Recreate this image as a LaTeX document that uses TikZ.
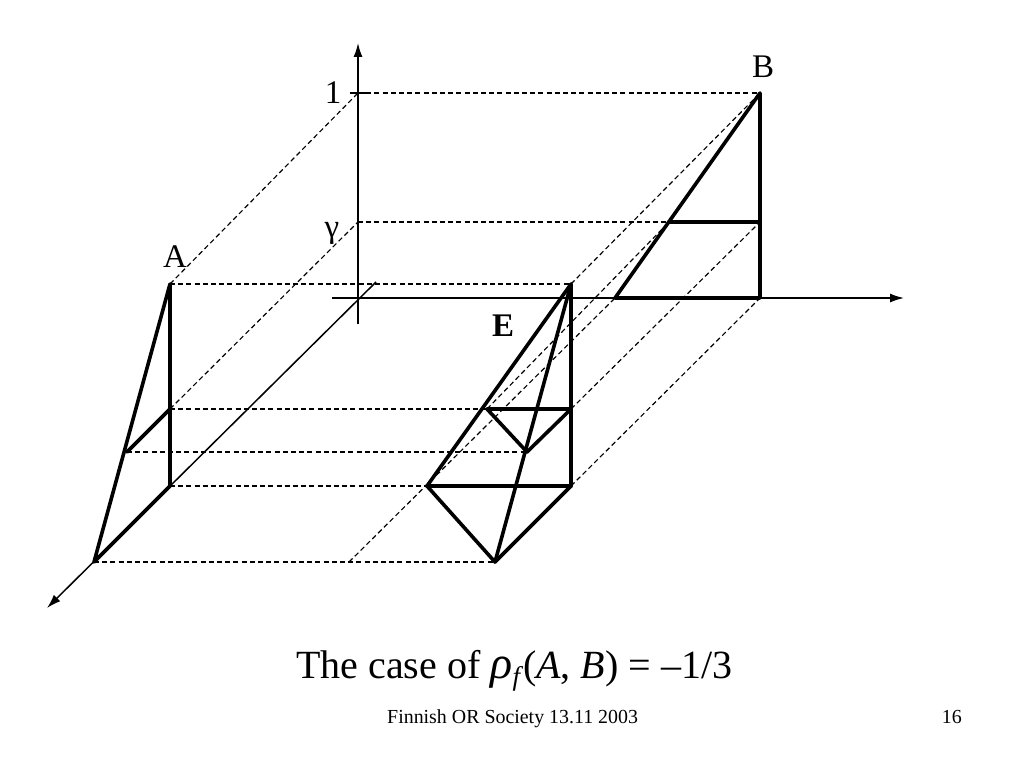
\documentclass[tikz,border=0pt]{standalone}
\usepackage{fontspec}
\setmainfont{Liberation Serif}
\usetikzlibrary{arrows.meta}

\begin{document}
\begin{tikzpicture}[
                x=1pt, y=-1pt,
                axis/.style={line width=1.5pt, -{Latex[length=14pt, width=9pt]}},
                axisline/.style={line width=1.5pt},
                guide/.style={line width=1.15pt, dash pattern=on 5pt off 3.2pt},
                face/.style={line width=3.6pt, line join=round, line cap=round},
                varlabel/.style={font=\fontsize{33}{33}\selectfont, inner sep=0pt},
                caption/.style={font=\fontsize{40}{44}\selectfont, inner sep=0pt},
                footer/.style={font=\fontsize{19.9}{22}\selectfont, inner sep=0pt}
            ]
            \useasboundingbox (0,0) rectangle (1024,768);

            % Points
            \coordinate (o) at (358,298);
            \coordinate (ybot) at (358,324);
            \coordinate (ytop) at (358,43);
            \coordinate (xbot) at (332,298);
            \coordinate (xtop) at (904,298);
            \coordinate (zbot) at (376,282);
            \coordinate (ztop) at (47,608);
            \coordinate (one) at (358,93);
            \coordinate (gam) at (358,222);
            \coordinate (tickl) at (350,93);
            \coordinate (tickr) at (367,93);

            \coordinate (a1) at (170,284);
            \coordinate (a2) at (170,409);
            \coordinate (a3) at (170,486);
            \coordinate (a4) at (94,562);
            \coordinate (a5) at (127,452);

            \coordinate (b1) at (760,93);
            \coordinate (b2) at (760,222);
            \coordinate (b3) at (760,298);
            \coordinate (b4) at (615,298);
            \coordinate (b5) at (669,222);

            \coordinate (e1) at (571,284);
            \coordinate (e2) at (571,409);
            \coordinate (e3) at (571,486);
            \coordinate (e4) at (495,562);
            \coordinate (e5) at (427,486);
            \coordinate (e6) at (487,409);
            \coordinate (e7) at (527,452);
            \coordinate (f1) at (349,562);

            % Labels
            \node[varlabel] (lone) at (333,93) {1};
            \node[varlabel] (lgam) at (332,233) {γ};
            \node[varlabel] (la) at (175,257) {A};
            \node[varlabel] (lb) at (763,67) {B};
            \node[varlabel] (le) at (503,326) {\textbf{E}};
            \node[caption, anchor=base west] (cap) at (296,678) {The case of \textit{\fontsize{46}{46}\selectfont ρ}\raisebox{-7pt}{\fontsize{27}{27}\selectfont\textit{f}}(\textit{A}, \textit{B}) = –1/3};
            \node[footer, anchor=base west] (foot) at (387,723) {Finnish OR Society 13.11 2003};
            \node[footer, anchor=base east] (num) at (962,723) {16};

            % Guides
            \draw[guide] (one) -- (b1);
            \draw[guide] (gam) -- (b5);
            \draw[guide] (a1) -- (e1);
            \draw[guide] (a2) -- (e6);
            \draw[guide] (a5) -- (e7);
            \draw[guide] (a3) -- (e5);
            \draw[guide] (a4) -- (e4);
            \draw[guide] (a1) -- (one);
            \draw[guide] (a2) -- (gam);
            \draw[guide] (e1) -- (b1);
            \draw[guide] (e6) -- (b5);
            \draw[guide] (f1) -- (b4);
            \draw[guide] (e2) -- (b2);
            \draw[guide] (e3) -- (b3);

            % Axes
            \draw[axis] (ybot) -- (ytop);
            \draw[axis] (xbot) -- (xtop);
            \draw[axis] (zbot) -- (ztop);
            \draw[axisline] (tickl) -- (tickr);

            % Faces
            \draw[face] (a1) -- (a4) -- (a3) -- cycle;
            \draw[face] (a5) -- (a2);
            \draw[face] (b1) -- (b4) -- (b3) -- cycle;
            \draw[face] (b5) -- (b2);
            \draw[face] (e1) -- (e5) -- (e4) -- (e3) -- cycle;
            \draw[face] (e1) -- (e4);
            \draw[face] (e5) -- (e3);
            \draw[face] (e6) -- (e2) -- (e7) -- cycle;

        \end{tikzpicture}
\end{document}
